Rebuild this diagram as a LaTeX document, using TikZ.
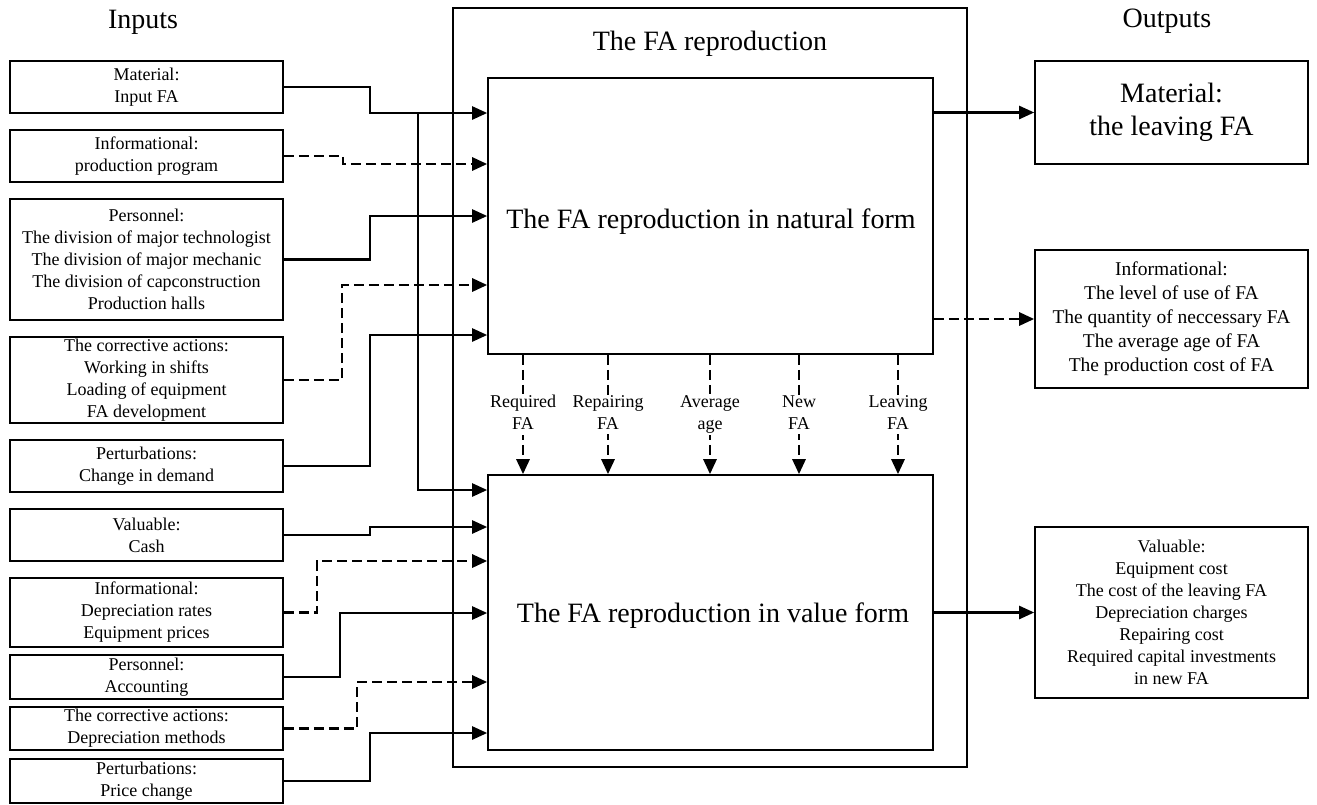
\documentclass[tikz,border=0pt]{standalone}
\usepackage{fontspec}
\setmainfont{Liberation Serif}
\usetikzlibrary{arrows.meta,calc}
\begin{document}
\begin{tikzpicture}[x=1pt,y=-1pt,
  inbox/.style={draw, line width=1.8pt, minimum width=273pt, inner sep=0pt, align=center, font=\fontsize{18}{22}\selectfont},
  outbox/.style={draw, line width=1.6pt, minimum width=273pt, inner sep=0pt, align=center},
  procbox/.style={draw, line width=1.6pt, minimum width=445pt, inner sep=0pt},
  conn/.style={line width=2.4pt, -{Triangle[length=15pt,width=13pt]}},
  dconn/.style={conn, line width=2.8pt, dash pattern=on 10pt off 5pt},
  lab/.style={fill=white, inner sep=1pt, align=center, font=\fontsize{18}{22}\selectfont},
  bigtext/.style={font=\fontsize{28}{33}\selectfont, inner sep=0pt},
  title/.style={font=\fontsize{28}{33}\selectfont, inner sep=0pt, anchor=base}]
\useasboundingbox (0,0) rectangle (1317,804);
\fill[white] (0,0) rectangle (1317,804);

% titles
\node[title] (tin) at (143,28) {Inputs};
\node[title] (tout) at (1167,27) {Outputs};

% outer process box
\node[draw, line width=2.7pt, minimum width=514pt, minimum height=759pt, inner sep=0pt] (outer) at (710,387.5) {};
\node[title] (tfa) at (710,50) {The FA reproduction};

% inner boxes
\node[procbox, minimum height=276pt] (up) at (710.5,216) {};
\node[procbox, minimum height=275pt] (lo) at (710.5,612.5) {};
\node[bigtext, anchor=base] (upt) at (711,228) {The FA reproduction in natural form};
\node[bigtext, anchor=base] (lot) at (713,622) {The FA reproduction in value form};

% input boxes
\node[inbox, minimum height=52pt] (in1) at (146.5,87) {Material:\\Input FA};
\node[inbox, minimum height=52pt] (in2) at (146.5,156) {Informational:\\production program};
\node[inbox, minimum height=121pt] (in3) at (146.5,259.5) {Personnel:\\The division of major technologist\\The division of major mechanic\\The division of capconstruction\\Production halls};
\node[inbox, minimum height=86pt] (in4) at (146.5,380) {The corrective actions:\\Working in shifts\\Loading of equipment\\FA development};
\node[inbox, minimum height=52pt] (in5) at (146.5,466) {Perturbations:\\Change in demand};
\node[inbox, minimum height=52pt] (in6) at (146.5,535) {Valuable:\\Cash};
\node[inbox, minimum height=69pt] (in7) at (146.5,612.5) {Informational:\\Depreciation rates\\Equipment prices};
\node[inbox, minimum height=44pt] (in8) at (146.5,677) {Personnel:\\Accounting};
\node[inbox, minimum height=43pt] (in9) at (146.5,728.5) {The corrective actions:\\Depreciation methods};
\node[inbox, minimum height=44pt] (in10) at (146.5,781) {Perturbations:\\Price change};

% output boxes
\node[outbox, minimum height=103pt, font=\fontsize{28}{33}\selectfont] (o1) at (1171.5,112.5) {Material:\\the leaving FA};
\node[outbox, minimum height=138pt, font=\fontsize{19.5}{24}\selectfont] (o2) at (1171.5,319) {Informational:\\The level of use of FA\\The quantity of neccessary FA\\The average age of FA\\The production cost of FA};
\node[outbox, minimum height=171pt, font=\fontsize{18}{22}\selectfont] (o3) at (1171.5,612.5) {Valuable:\\Equipment cost\\The cost of the leaving FA\\Depreciation charges\\Repairing cost\\Required capital investments\\in new FA};

% bend points
\coordinate (b1) at (370,113);
\coordinate (b2) at (343,164);
\coordinate (b3) at (370,216);
\coordinate (b4) at (342,285);
\coordinate (b5) at (370,335);
\coordinate (b6) at (370,527);
\coordinate (b7) at (317,561);
\coordinate (b8) at (340,613);
\coordinate (b9) at (357,682);
\coordinate (b10) at (370,733);
\coordinate (j1) at (418,113);
\coordinate (j2) at (418,490);

% input connectors
\draw[conn] (in1.east) -| (b1) -- (b1 -| up.west);
\draw[conn] (j1) -- (j2) -- (j2 -| lo.west);
\draw[dconn] (in2.east) -| (b2) -- (b2 -| up.west);
\draw[conn] (in3.east) -| (b3) -- (b3 -| up.west);
\draw[dconn] (in4.east) -| (b4) -- (b4 -| up.west);
\draw[conn] (in5.east) -| (b5) -- (b5 -| up.west);
\draw[conn] (in6.east) -| (b6) -- (b6 -| lo.west);
\draw[dconn] (in7.east) -| (b7) -- (b7 -| lo.west);
\draw[conn] (in8.east) -| (b8) -- (b8 -| lo.west);
\draw[dconn] (in9.east) -| (b9) -- (b9 -| lo.west);
\draw[conn] (in10.east) -| (b10) -- (b10 -| lo.west);

% output connectors
\draw[conn] (up.east |- o1.west) -- (o1.west);
\draw[dconn] (up.east |- o2.west) -- (o2.west);
\draw[conn] (lo.east |- o3.west) -- (o3.west);

% vertical flows between the two process boxes
\foreach \x/\t [count=\i] in {523/{Required\\\vphantom{g}FA},608/{Repairing\\\vphantom{g}FA},710/{\vphantom{d}Average\\\vphantom{A}age},799/{\vphantom{g}New\\\vphantom{g}FA},898/{Leaving\\\vphantom{g}FA}} {
  \coordinate (v\i) at (\x,0);
  \draw[dconn] (v\i |- up.south) -- (v\i |- lo.north) node[midway, lab] (l\i) {\t};
}
\end{tikzpicture}
\end{document}
